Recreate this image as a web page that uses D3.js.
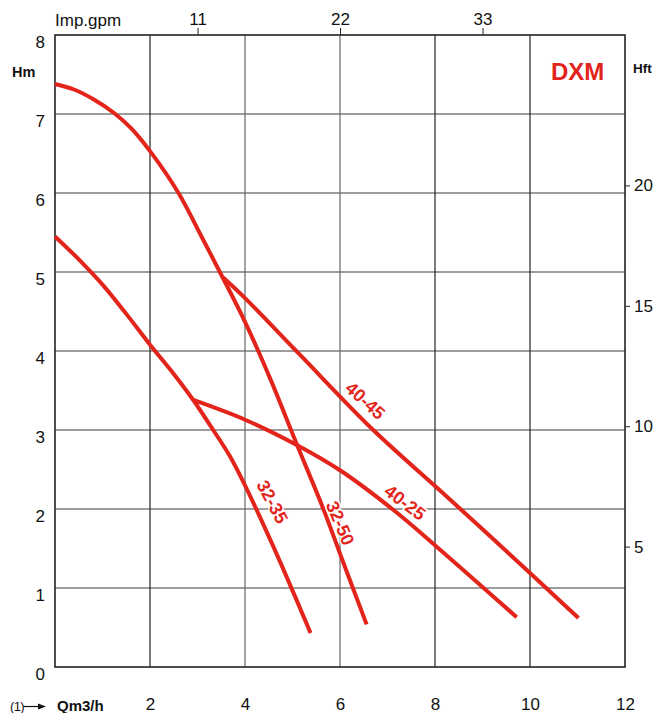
<!DOCTYPE html>
<html>
<head>
<meta charset="utf-8">
<script src="https://cdn.jsdelivr.net/npm/d3@7"></script>
<style>
  html, body { margin: 0; padding: 0; background: #fff; }
  svg { display: block; font-family: "Liberation Sans", Arial, Helvetica, sans-serif; }
</style>
</head>
<body>
<svg id="chart" width="653" height="713"></svg>
<script>
// ---- data (Q in m3/h, H in m) ----
const qTicks = [2, 4, 6, 8, 10, 12];
const hTicks = [0, 1, 2, 3, 4, 5, 6, 7, 8];
const gpmTicks = [11, 22, 33];
const ftTicks = [5, 10, 15, 20];

const q3250 = [0, 0.4, 0.8, 1.25, 1.6, 2.0, 2.6, 3.1, 3.47, 4.0, 4.53, 5.09, 5.65, 6.04, 6.56];
const h3250 = [7.38, 7.31, 7.19, 7.01, 6.82, 6.53, 6.0, 5.43, 5.0, 4.37, 3.65, 2.82, 2.0, 1.37, 0.54];

const q3235 = [0, 0.5, 1.0, 1.5, 2.0, 2.5, 2.91, 3.33, 3.68, 4.0, 4.39, 4.77, 5.38];
const h3235 = [5.45, 5.16, 4.84, 4.47, 4.08, 3.71, 3.38, 3.0, 2.67, 2.30, 1.80, 1.29, 0.43];

const q4045 = [3.54, 4.0, 5.16, 6.7, 8.28, 10.0, 11.02];
const h4045 = [4.93, 4.67, 3.95, 3.0, 2.14, 1.19, 0.62];

const q4025 = [2.91, 4.0, 5.09, 6.0, 7.12, 8.04, 9.72];
const h4025 = [3.38, 3.13, 2.81, 2.49, 1.99, 1.52, 0.63];

const seriesNames = ["32-50", "32-35", "40-45", "40-25"];
const seriesQ = [q3250, q3235, q4045, q4025];
const seriesH = [h3250, h3235, h4045, h4025];

// label anchors in data units (Q, H) and rotation
const labelQ = [6.0, 4.57, 6.53, 7.37];
const labelH = [1.82, 2.09, 3.37, 2.08];
const labelRot = [67, 62, 42, 37];

const GPM_TO_M3H = 0.272765;
const FT_TO_M = 0.3048;

// ---- layout ----
const svg = d3.select("#chart");
const L = 55, R = 625, T = 35, B = 667;
const RED = "#e3241b";
const FONT = "17px";

const x = d3.scaleLinear().domain([0, 12]).range([L, R]);
const y = d3.scaleLinear().domain([0, 8]).range([B, T]);
const xGpm = d3.scaleLinear().domain([0, 12 / GPM_TO_M3H]).range([L, R]);
const yFt = d3.scaleLinear().domain([0, 8 / FT_TO_M]).range([B, T]);

// grid
const grid = svg.append("g");
grid.selectAll("line.h").data(hTicks.filter(d => d > 0 && d < 8)).join("line")
  .attr("x1", L).attr("x2", R)
  .attr("y1", d => y(d)).attr("y2", d => y(d))
  .attr("stroke", "#7c7c7c").attr("stroke-width", 1.3);
grid.selectAll("line.v").data(qTicks.filter(d => d < 12)).join("line")
  .attr("y1", T).attr("y2", B)
  .attr("x1", d => x(d)).attr("x2", d => x(d))
  .attr("stroke", d => (d === 4 || d === 6) ? "#666" : "#222").attr("stroke-width", 1.2);

// frame
svg.append("rect").attr("x", L).attr("y", T).attr("width", R - L).attr("height", B - T)
  .attr("fill", "none").attr("stroke", "#222").attr("stroke-width", 1.6);

function styleAxis(g) {
  g.select(".domain").remove();
  g.selectAll("text").attr("font-size", FONT).attr("fill", "#111")
    .attr("font-family", '"Liberation Sans", Arial, sans-serif');
  g.selectAll("line").attr("stroke", "#222");
}

// left axis (m)
svg.append("g").attr("transform", `translate(${L},0)`)
  .call(d3.axisLeft(y).tickValues(hTicks).tickSize(0).tickPadding(10).tickFormat(d3.format("d")))
  .call(styleAxis)
  .call(g => g.selectAll("text").attr("dy", "0.74em"));

// bottom axis (m3/h)
svg.append("g").attr("transform", `translate(0,${B})`)
  .call(d3.axisBottom(x).tickValues(qTicks).tickSize(0).tickPadding(31).tickFormat(d3.format("d")))
  .call(styleAxis);

// top axis (Imp.gpm)
svg.append("g").attr("transform", `translate(0,${T})`)
  .call(d3.axisTop(xGpm).tickValues(gpmTicks).tickSize(7).tickPadding(3).tickFormat(d3.format("d")))
  .call(styleAxis);

// right axis (ft)
svg.append("g").attr("transform", `translate(${R},0)`)
  .call(d3.axisRight(yFt).tickValues(ftTicks).tickSize(5).tickPadding(4).tickFormat(d3.format("d")))
  .call(styleAxis);

// axis titles
svg.append("text").attr("x", L).attr("y", 26).attr("font-size", FONT).attr("fill", "#111").text("Imp.gpm");
svg.append("text").attr("x", 12).attr("y", 77).attr("font-size", "14.5px").attr("font-weight", "bold").attr("fill", "#111").text("Hm");
svg.append("text").attr("x", 633).attr("y", 73).attr("font-size", "13.5px").attr("font-weight", "bold").attr("fill", "#111").text("Hft");
svg.append("text").attr("x", 57).attr("y", 711).attr("font-size", "15px").attr("font-weight", "bold").attr("fill", "#111").text("Qm3/h");
svg.append("text").attr("x", 10).attr("y", 711).attr("font-size", "13px").attr("letter-spacing", "-0.6").attr("fill", "#111").text("(1)");
svg.append("line").attr("x1", 23.5).attr("x2", 40).attr("y1", 706.5).attr("y2", 706.5)
  .attr("stroke", "#111").attr("stroke-width", 1.2);
svg.append("path").attr("d", "M46,706.5 L38,703.5 L38,709.5 Z").attr("fill", "#111");

// title
svg.append("text").attr("x", 551).attr("y", 80).attr("font-size", "24px").attr("font-weight", "bold")
  .attr("fill", RED).text("DXM");

// curves
const line = d3.line().x(d => x(d[0])).y(d => y(d[1])).curve(d3.curveCatmullRom.alpha(0.5));
seriesNames.forEach((name, i) => {
  const pts = seriesQ[i].map((q, j) => [q, seriesH[i][j]]);
  svg.append("path").datum(pts).attr("d", line)
    .attr("fill", "none").attr("stroke", RED).attr("stroke-width", 4);
});

// curve labels
seriesNames.forEach((name, i) => {
  svg.append("text")
    .attr("transform", `translate(${x(labelQ[i])},${y(labelH[i])}) rotate(${labelRot[i]})`)
    .attr("text-anchor", "middle").attr("dominant-baseline", "central")
    .attr("font-size", "18px").attr("font-weight", "bold").attr("fill", RED)
    .attr("stroke", "#fff").attr("stroke-width", 3).attr("paint-order", "stroke")
    .text(name);
});
</script>
</body>
</html>
